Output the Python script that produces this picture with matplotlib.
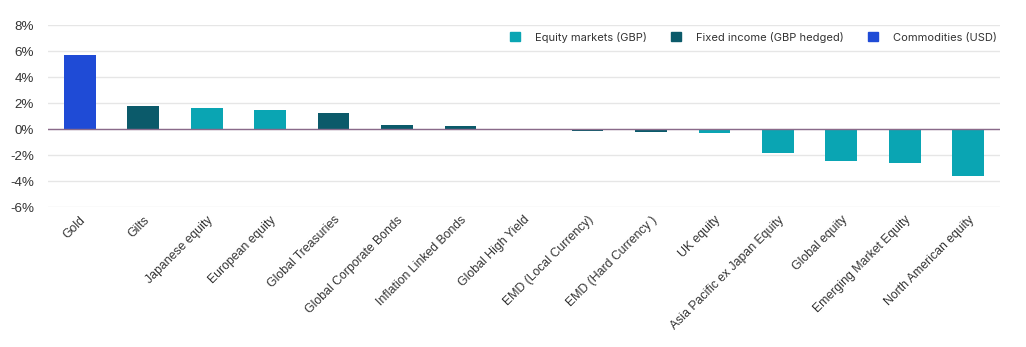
import matplotlib
matplotlib.use("Agg")
import matplotlib.pyplot as plt
from matplotlib.patches import Patch

categories = ["Gold", "Gilts", "Japanese equity", "European equity", "Global Treasuries",
              "Global Corporate Bonds", "Inflation Linked Bonds", "Global High Yield",
              "EMD (Local Currency)", "EMD (Hard Currency )", "UK equity",
              "Asia Pacific ex Japan Equity", "Global equity", "Emerging Market Equity",
              "North American equity"]
values = [5.7, 1.8, 1.65, 1.45, 1.25, 0.32, 0.25, 0.0, -0.12, -0.25, -0.33,
          -1.85, -2.45, -2.6, -3.65]
groups = ["Commodities", "Fixed", "Equity", "Equity", "Fixed", "Fixed", "Fixed", "Fixed",
          "Fixed", "Fixed", "Equity", "Equity", "Equity", "Equity", "Equity"]
legend_labels = ["Equity markets (GBP)", "Fixed income (GBP hedged)", "Commodities (USD)"]
yticks = [-6, -4, -2, 0, 2, 4, 6, 8]

colors = {"Equity": "#0AA5B3", "Fixed": "#0B5A6A", "Commodities": "#1F4BD6"}

fig = plt.figure(figsize=(10.26, 3.47), dpi=100)
ax = fig.add_axes([48/1026, 1 - 207/347, 952/1026, 182/347])

x = list(range(len(categories)))
ax.bar(x, values, width=0.5, color=[colors[g] for g in groups], zorder=3)
ax.axhline(0, color="#8A6A8A", lw=1.0, zorder=4)

ax.set_xlim(-0.5, len(categories) - 0.5)
ax.set_ylim(-6, 8)
ax.set_yticks(yticks)
ax.set_yticklabels([f"{v}%" for v in yticks], fontsize=9.6, color="#333333",
                   fontfamily="Liberation Sans")
ax.yaxis.grid(True, color="#E6E6E6", lw=1.0, zorder=0)
ax.set_axisbelow(True)
ax.tick_params(axis="both", length=0)
ax.tick_params(axis="y", pad=10)
ax.set_xticks(x)
ax.set_xticklabels(categories, rotation=45, ha="right", rotation_mode="anchor",
                   fontsize=8.8, color="#333333", fontfamily="Liberation Sans")
ax.tick_params(axis="x", pad=5)
for s in ax.spines.values():
    s.set_visible(False)

handles = [Patch(color=colors[k]) for k in ["Equity", "Fixed", "Commodities"]]
leg = ax.legend(handles, legend_labels, loc="center right", ncol=3, frameon=False,
                bbox_to_anchor=(0.9968, 0.934), handlelength=0.9, handleheight=0.9,
                columnspacing=2.2, handletextpad=1.35, borderaxespad=0, borderpad=0,
                prop={"family": "Inter", "size": 8.0})
for t in leg.get_texts():
    t.set_color("#333333")

fig.savefig("out.png", dpi=100, facecolor="white")
